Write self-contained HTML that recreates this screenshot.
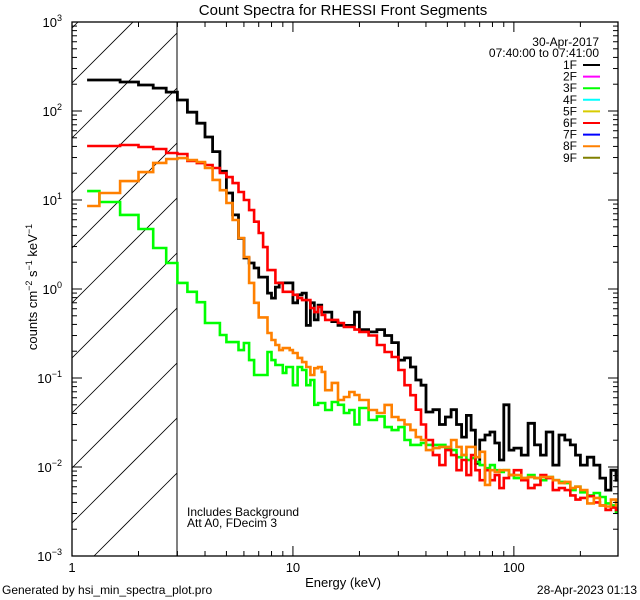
<!DOCTYPE html>
<html><head><meta charset="utf-8"><style>
html,body{margin:0;padding:0;background:#fff;width:640px;height:600px;overflow:hidden;}
svg{display:block;font-family:"Liberation Sans",sans-serif;overflow:hidden;}
</style></head><body>
<svg id="chart" width="640" height="600" viewBox="0 0 640 600" xmlns="http://www.w3.org/2000/svg">
<rect width="640" height="600" fill="#fff"/>
<text x="343" y="15" font-size="15" text-anchor="middle">Count Spectra for RHESSI Front Segments</text>
<defs><clipPath id="hclip"><rect x="72" y="22" width="105" height="534"/></clipPath><clipPath id="pclip"><rect x="72" y="22" width="546" height="534"/></clipPath></defs>
<g id="hatch" clip-path="url(#hclip)"></g>
<line x1="177" y1="22" x2="177" y2="556" stroke="#000" stroke-width="1"/>
<g id="series" clip-path="url(#pclip)"></g>
<rect x="72" y="22" width="546" height="534" fill="none" stroke="#000" stroke-width="1.3"/>
<g id="axes"></g>
<text x="187" y="516" font-size="12">Includes Background</text>
<text x="187" y="527" font-size="12">Att A0, FDecim 3</text>
<text x="343" y="587" font-size="13" text-anchor="middle">Energy (keV)</text>
<text transform="translate(37,287) rotate(-90)" font-size="13" text-anchor="middle">counts cm<tspan baseline-shift="super" font-size="9">−2</tspan> s<tspan baseline-shift="super" font-size="9">−1</tspan> keV<tspan baseline-shift="super" font-size="9">−1</tspan></text>
<text x="2" y="594" font-size="12">Generated by hsi_min_spectra_plot.pro</text>
<text x="637" y="594" font-size="12" text-anchor="end">28-Apr-2023 01:13</text>
<text x="599" y="46" font-size="12" text-anchor="end">30-Apr-2017</text>
<text x="599" y="57" font-size="12" text-anchor="end">07:40:00 to 07:41:00</text>
<g id="legend"></g>
</svg>
<script>
const energyEdges = [1.17,1.33,1.65,2,2.33,2.67,3,3.33,3.67,4,4.33,4.67,5,5.33,5.67,6,6.33,6.67,7,7.33,7.67,8,8.33,8.67,9,9.33,9.67,10,10.5,11,11.5,12,12.5,13,13.5,14,15,16,17,18,19,20,22,24,26,28,30,32,34,36,38,40,43,46,49,52,55,58,61,64,67,70,74,78,82,86,90,95,100,108,116,124,132,140,150,160,170,180,190,200,215,230,245,260,275,290,300];
const seg1F = [223,223,212,196,181,163,133,97,73,51,35,21,12,6.8,3.7,2.23,1.96,1.72,1.36,
  1.36,0.90,0.79,1.05,1.17,1.17,1.17,1.17,
  0.70,0.86,0.90,0.39,0.70,0.45,0.66,0.55,
  0.55,0.43,0.39,0.39,0.39,0.55,
  0.35,0.33,0.35,0.30,0.25,0.159,0.168,0.133,0.095,0.083,
  0.0415,0.044,0.030,0.0365,0.044,0.030,0.0217,0.038,0.026,0.011,
  0.0201,0.0229,0.0247,0.0186,0.012,0.050,0.0155,
  0.0163,0.0136,0.031,0.0177,0.0136,
  0.0247,0.0105,0.0229,0.0201,0.0177,0.0136,
  0.0105,0.0129,0.0105,0.0075,0.0055,0.0092,
  0.0071];
const seg3F = [12.6,9.5,6.8,4.72,2.89,1.96,1.17,0.93,0.71,0.415,0.415,0.304,0.253,0.253,0.206,0.247,0.159,0.108,0.108,
  0.108,0.196,0.159,0.14,0.14,0.114,0.133,0.133,
  0.083,0.133,0.123,0.083,0.095,0.050,0.0524,0.0524,
  0.0437,0.0537,0.050,0.0404,0.0437,0.030,
  0.046,0.0337,0.0370,0.0281,0.026,0.0281,0.0201,0.0177,0.0177,0.0186,
  0.0177,0.0177,0.0177,0.0163,0.0155,0.0129,0.0136,0.0120,0.0126,0.0114,
  0.0105,0.0097,0.0105,0.0092,0.0088,0.0092,0.0081,
  0.0075,0.0075,0.0081,0.0075,0.0071,
  0.0077,0.0071,0.0068,0.0066,0.0055,0.0060,
  0.0052,0.0048,0.0051,0.0046,0.0039,0.0037,
  0.0031];
const seg6F = [40.4,40.4,41.5,39.4,37.4,33.7,32.9,27.4,26,24.7,22.9,20.1,18.1,15.5,12.3,10,7.7,5.7,4.26,
  2.96,1.63,1.63,1.17,1.17,0.93,0.93,0.93,
  0.86,0.79,0.75,0.75,0.61,0.55,0.63,0.51,
  0.45,0.45,0.415,0.374,0.374,0.35,
  0.33,0.30,0.235,0.196,0.172,0.123,0.083,0.064,0.044,0.030,
  0.0201,0.0136,0.0105,0.0155,0.0136,0.0092,0.0120,0.0081,0.0136,0.0092,
  0.0071,0.0092,0.0071,0.0081,0.0058,0.0075,0.0081,
  0.0092,0.0071,0.0058,0.0063,0.0081,
  0.0075,0.0055,0.0058,0.0055,0.0048,0.0043,
  0.0045,0.0047,0.0040,0.0037,0.0033,0.0035,
  0.0033];
const seg8F = [8.57,12.0,16.3,20.6,26.1,28.9,29.6,28.1,26.7,22.9,16.8,12.9,9.25,5.96,3.74,2.29,1.17,0.70,0.48,
  0.48,0.32,0.267,0.235,0.206,0.217,0.217,0.206,
  0.191,0.168,0.151,0.133,0.108,0.129,0.133,0.117,
  0.073,0.088,0.0566,0.0612,0.0697,0.0644,
  0.0566,0.0437,0.0404,0.0498,0.0365,0.0337,0.030,0.026,0.0217,0.0201,
  0.0155,0.0163,0.0168,0.0168,0.0201,0.0168,0.0136,0.0168,0.0168,0.0129,
  0.0148,0.0063,0.0092,0.0088,0.0092,0.0092,0.0081,
  0.0081,0.0075,0.0077,0.0075,0.0077,
  0.0077,0.0071,0.0066,0.0068,0.0058,0.0060,
  0.0055,0.0039,0.0045,0.0037,0.0036,0.0043,
  0.0037];
const legendLabels = ["1F","2F","3F","4F","5F","6F","7F","8F","9F"];
const legendColors = ["#000000","#ff00ff","#00ff00","#00ffff","#d8cc00","#ff0000","#0000ff","#ff8000","#808000"];
const yTickExps = [-3,-2,-1,0,1,2,3];
const xTickLabels = [1,10,100];

const NS="http://www.w3.org/2000/svg";
const X0=72,X1=618,Y0=556,Y1=22;
const XMIN=0,XMAX=Math.log10(296),YMIN=-3,YMAX=3;
function xs(e){return X0+(Math.log10(e)-XMIN)/(XMAX-XMIN)*(X1-X0);}
function ys(v){return Y0-(Math.log10(v)-YMIN)/(YMAX-YMIN)*(Y0-Y1);}
function mk(tag,attrs,parent){const el=document.createElementNS(NS,tag);for(const k in attrs)el.setAttribute(k,attrs[k]);parent.appendChild(el);return el;}

const hatch=document.getElementById('hatch');
for(let k=-2;k<10;k++){
  const c=83+55*k;
  const ln=mk('line',{x1:72,y1:c,x2:177,y2:c-105,stroke:'#000','stroke-width':0.8},hatch);
  
  
}

const sg=document.getElementById('series');
const seriesList=[[seg1F,"#000000","series-1f"],[seg3F,"#00ff00","series-3f"],[seg6F,"#ff0000","series-6f"],[seg8F,"#ff8000","series-8f"]];
seriesList.forEach(([vals,col,name])=>{
  let d="";
  for(let i=0;i<vals.length&&i+1<energyEdges.length;i++){
    const xa=xs(energyEdges[i]),xb=xs(energyEdges[i+1]),y=ys(vals[i]);
    d+=(i===0?"M"+xa.toFixed(1)+","+y.toFixed(1):"V"+y.toFixed(1))+"H"+xb.toFixed(1);
  }
  const p=mk('path',{d:d,fill:'none',stroke:col,'stroke-width':col==="#000000"?2.8:2.6,'stroke-linejoin':'miter'},sg);
  
  
});

const ax=document.getElementById('axes');
for(let e=YMIN;e<=YMAX;e++){
  for(let m=1;m<=9;m++){
    if(e===YMAX&&m>1)break;
    const y=ys(m*Math.pow(10,e));
    const L=m===1?10:5;
    const t1=mk('line',{x1:X0,y1:y,x2:X0+L,y2:y,stroke:'#000','stroke-width':1},ax);
    
    
    const t2=mk('line',{x1:X1,y1:y,x2:X1-L,y2:y,stroke:'#000','stroke-width':1},ax);
    
    
  }
}
yTickExps.forEach(e=>{
  const y=ys(Math.pow(10,e));
  const t=mk('text',{x:62,y:y+5,'font-size':13,'text-anchor':'end'},ax);
  
  
  t.appendChild(document.createTextNode('10'));
  const s=mk('tspan',{'font-size':9,dy:-6},t);
  s.textContent=String(e).replace('-','−');
});
for(let e=0;e<=2;e++){
  for(let m=1;m<=9;m++){
    const v=m*Math.pow(10,e);
    if(Math.log10(v)>XMAX)break;
    const x=xs(v);
    const L=m===1?10:5;
    const b=mk('line',{x1:x,y1:Y0,x2:x,y2:Y0-L,stroke:'#000','stroke-width':1},ax);
    
    
    const t=mk('line',{x1:x,y1:Y1,x2:x,y2:Y1+L,stroke:'#000','stroke-width':1},ax);
    
    
  }
}
xTickLabels.forEach(v=>{
  const t=mk('text',{x:xs(v),y:572,'font-size':13,'text-anchor':'middle'},ax);
  
  
  t.textContent=String(v);
});

const lg=document.getElementById('legend');
legendLabels.forEach((lab,i)=>{
  const y=65+i*11.6;
  const t=mk('text',{x:577,y:y+4,'font-size':12,'text-anchor':'end'},lg);
  
  
  t.textContent=lab;
  const l=mk('line',{x1:583,y1:y,x2:600,y2:y,stroke:legendColors[i],'stroke-width':2},lg);
  
  
});
</script>
</body></html>
